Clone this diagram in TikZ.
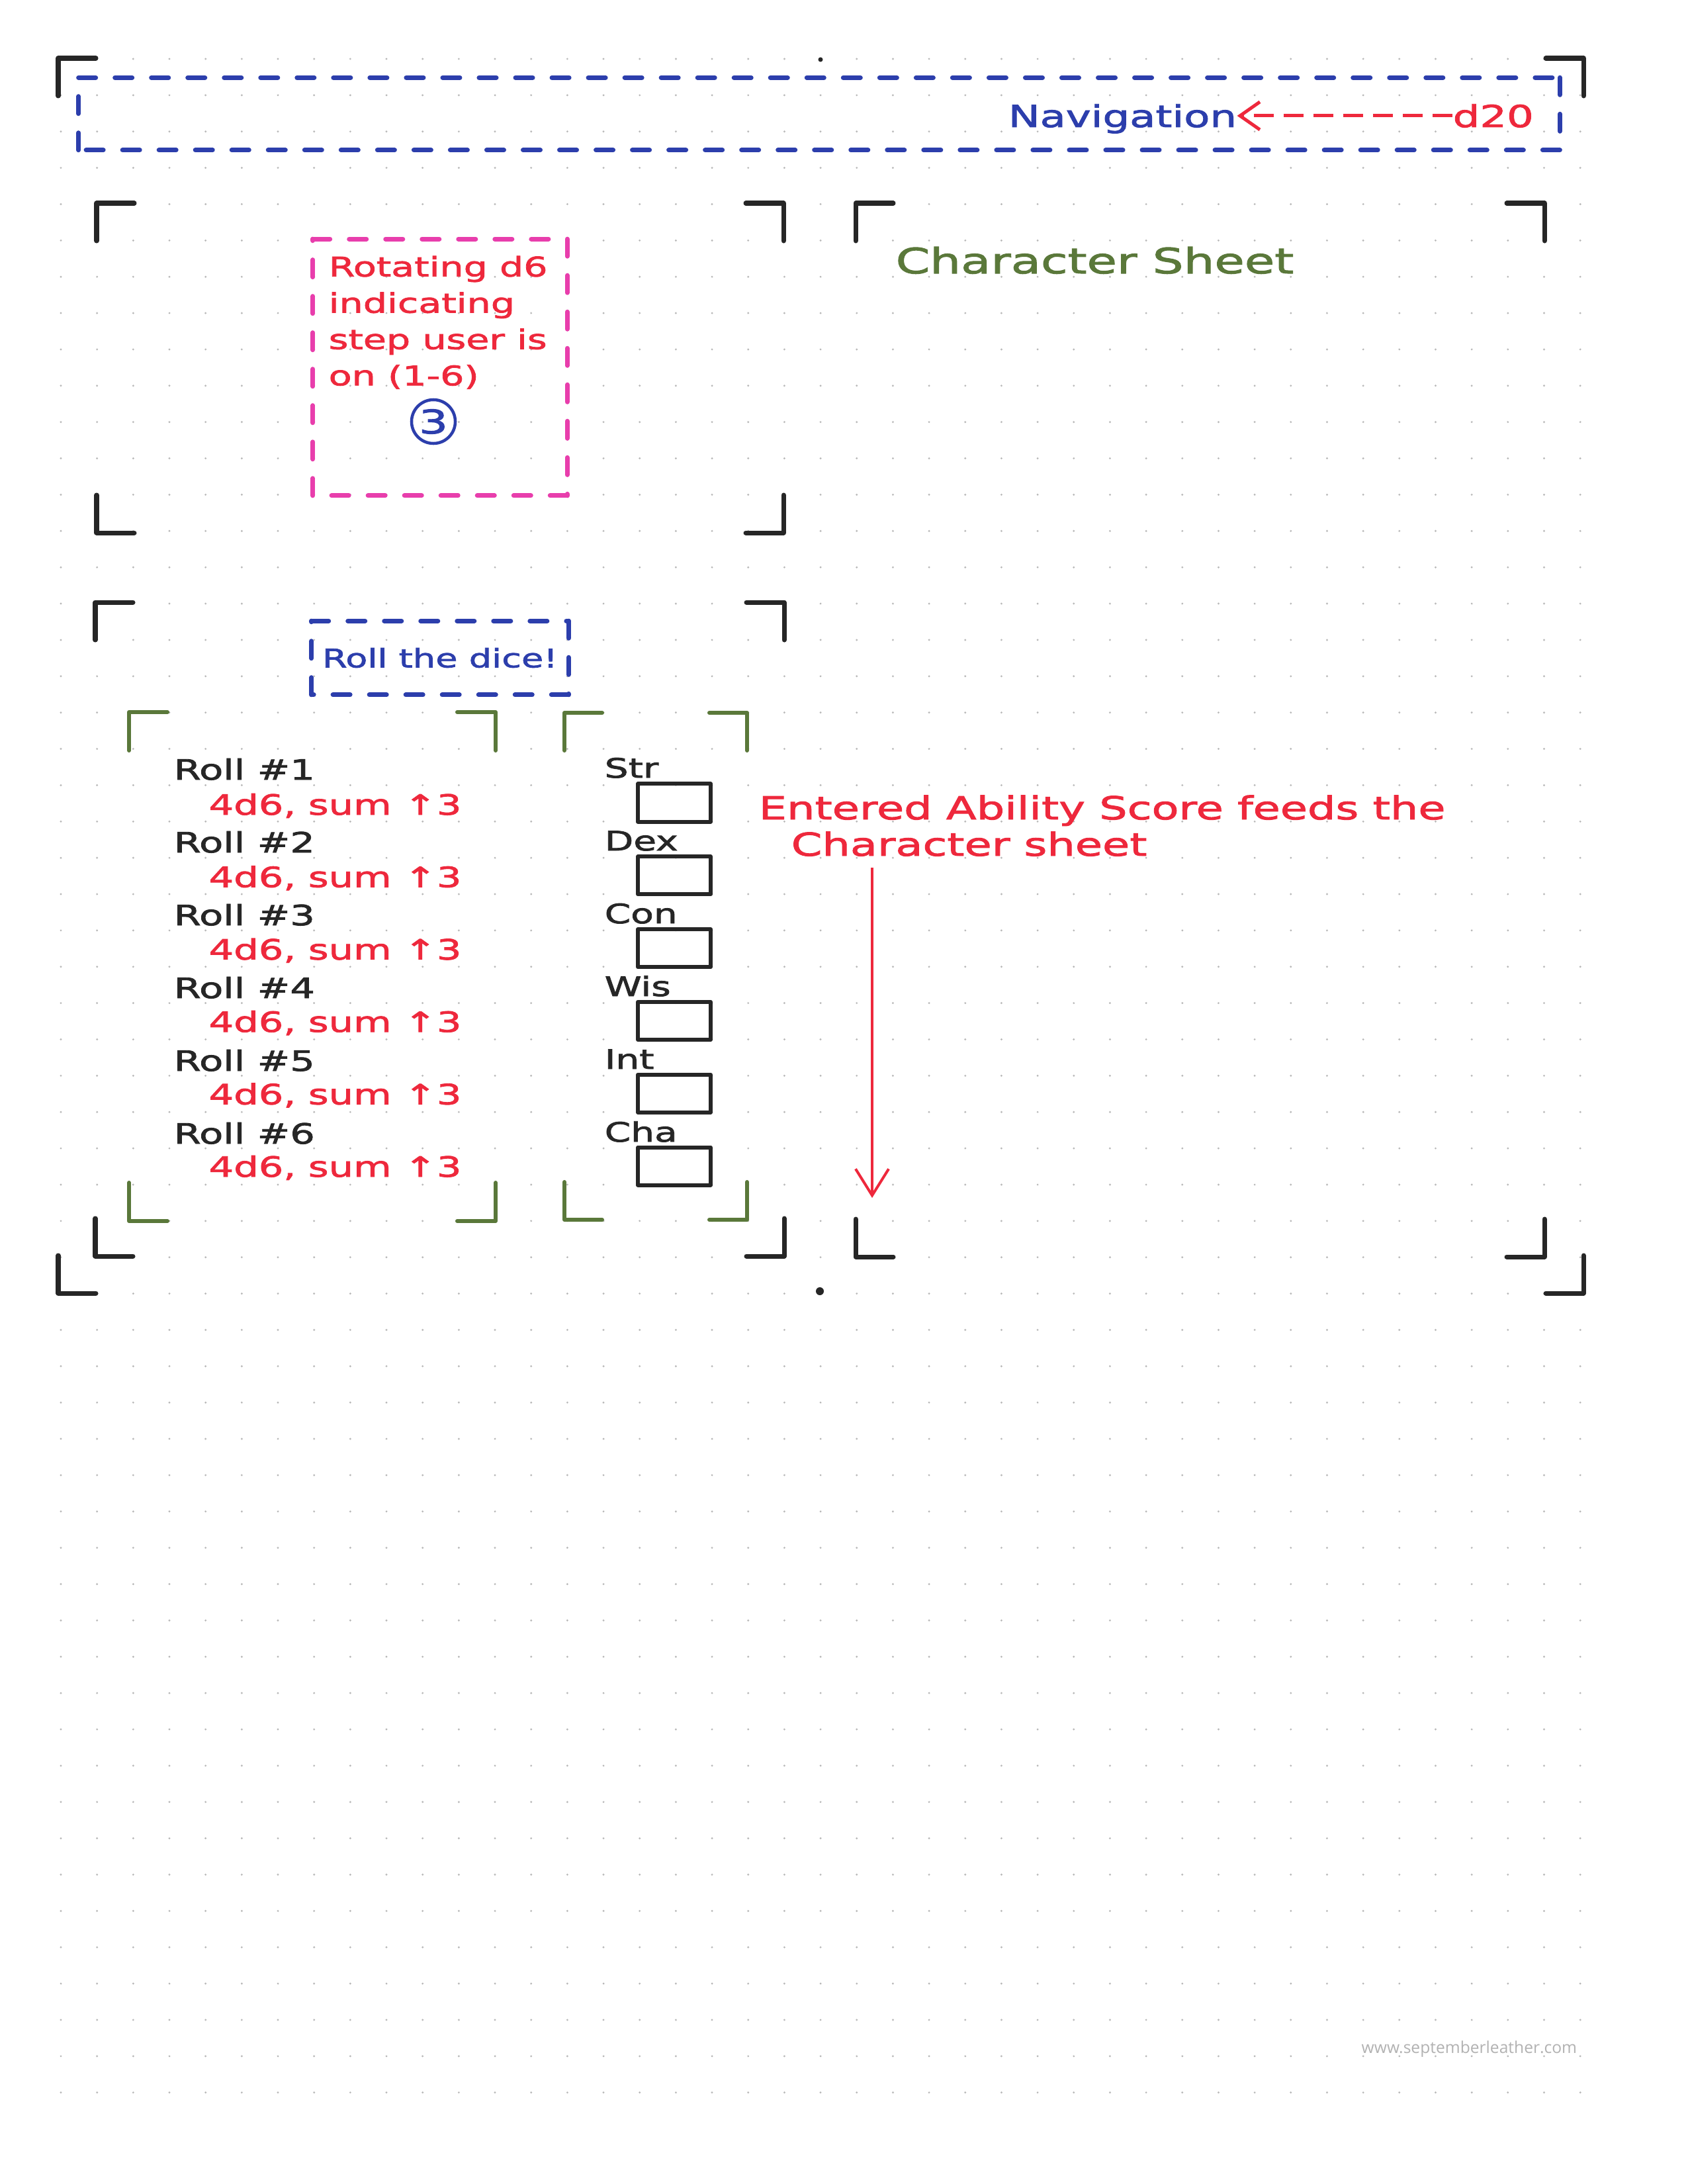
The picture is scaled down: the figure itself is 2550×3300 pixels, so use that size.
\documentclass[tikz,border=0pt]{standalone}
\usepackage{fontspec}
\usetikzlibrary{arrows.meta,positioning}
\newfontfamily\hand[FakeStretch=1.4,FakeBold=2]{DejaVu Sans}
\newfontfamily\webfont{Open Sans}
\definecolor{inkblack}{RGB}{38,38,38}
\definecolor{inkblue}{RGB}{44,62,172}
\definecolor{inkred}{RGB}{238,40,60}
\definecolor{inkpink}{RGB}{232,62,172}
\definecolor{inkgreen}{RGB}{90,120,58}
\definecolor{gridgray}{RGB}{185,185,185}
% corner marks of a panel: x1, y1, x2, y2, arm, style
\newcommand\panelcorners[6]{%
  \draw[#6] (#1+#5,#2) -- (#1,#2) -- (#1,#2+#5);
  \draw[#6] (#3-#5,#2) -- (#3,#2) -- (#3,#2+#5);
  \draw[#6] (#1,#4-#5) -- (#1,#4) -- (#1+#5,#4);
  \draw[#6] (#3,#4-#5) -- (#3,#4) -- (#3-#5,#4);
}
% dashed sides of a box node, each side starting at a corner
\newcommand\dashsides[2]{%
  \foreach \a/\b in {north west/north east,north east/south east,south east/south west,south west/north west}
    \draw[#2] (#1.\a) -- (#1.\b);
}
\begin{document}
\begin{tikzpicture}[x=0.01cm,y=-0.01cm,
    ink/.style={line width=0.07cm,line cap=round,line join=round},
    blackcorner/.style={ink,inkblack},
    greencorner/.style={ink,line width=0.06cm,inkgreen},
    dashside/.style={line width=0.07cm,line cap=round,dash pattern=on 0.26cm off 0.29cm},
    dashbox/.style={rectangle,inner sep=0pt},
    txt/.style={inner sep=0pt,anchor=base west},
    scorebox/.style={draw=inkblack,line width=0.06cm,line join=round,minimum width=1.1cm,minimum height=0.57cm,inner sep=0pt},
    navarrow/.style={inkred,line width=0.05cm,dash pattern=on 0.3cm off 0.15cm,-{Straight Barb[length=0.3cm,width=0.42cm]}},
    feedarrow/.style={inkred,line width=0.04cm,-{Straight Barb[length=0.4cm,width=0.5cm]}}]
    \fill[white] (0,0) rectangle (2550,3300);
    \useasboundingbox (0,0) rectangle (2550,3300);

    % dotted paper
    \foreach \i in {0,...,42}
      \foreach \j in {0,...,56}
        \fill[gridgray] (92+54.67*\i,89+54.87*\j) circle[radius=0.016cm];
    \fill[inkblack] (1240,90) circle[radius=0.035cm];
    \fill[inkblack] (1239,1951) circle[radius=0.06cm];

    % panels
    \panelcorners{88}{88}{2393}{1954}{57}{blackcorner}
    \panelcorners{146}{307}{1184}{805}{57}{blackcorner}
    \panelcorners{144}{910}{1185}{1898}{57}{blackcorner}
    \panelcorners{1293}{307}{2334}{1899}{57}{blackcorner}
    \panelcorners{195}{1076}{749}{1845}{58}{greencorner}
    \panelcorners{853}{1077}{1129}{1843}{57}{greencorner}

    % navigation bar
    \node[dashbox,minimum width=22.36cm,minimum height=1.08cm] (navbar) at (1238,172) {};
    \dashsides{navbar}{dashside,inkblue}
    \node[txt,font=\hand\fontsize{13}{16}\selectfont,text=inkblue] (nav) at (1523,192) {Navigation};
    \node[txt,font=\hand\fontsize{13}{16}\selectfont,text=inkred] (d20) at (2195,192) {d20};
    \draw[navarrow] (d20.west) -- (d20.west -| nav.east);

    \node[txt,font=\hand\fontsize{15}{18}\selectfont,text=inkgreen] (sheet) at (1353,413) {Character Sheet};

    % step indicator
    \node[dashbox,minimum width=3.83cm,minimum height=3.86cm] (stepbox) at (665,555) {};
    \dashsides{stepbox}{dashside,inkpink}
    \node[inner sep=0pt,anchor=north west,align=left,font=\hand\fontsize{11.6}{15.6}\selectfont,text=inkred] (steptext) at (496,386) {Rotating d6\\indicating\\step user is\\on (1-6)};
    \node[circle,draw=inkblue,line width=0.045cm,minimum size=0.66cm,inner sep=0pt,text=inkblue,font=\hand\fontsize{14}{16}\selectfont] (stepnum) at (655,637) {3};

    % rolls
    \node[dashbox,minimum width=3.87cm,minimum height=1.1cm,text=inkblue,font=\hand\fontsize{11}{14}\selectfont] (dice) at (665,994) {Roll the dice!};
    \dashsides{dice}{dashside,inkblue}
    \foreach \n in {1,...,6} {
      \node[txt,font=\hand\fontsize{12}{15}\selectfont,text=inkblack] (roll\n) at (262,1178+110*\n-110) {Roll \#\n};
      \node[txt,font=\hand\fontsize{12}{15}\selectfont,text=inkred] (rule\n) at (315,1231+109.4*\n-109.4) {4d6, sum ↑3};
    }

    % ability scores
    \foreach \ab [count=\n] in {Str,Dex,Con,Wis,Int,Cha} {
      \node[scorebox] (score\n) at (1019,1213+109.8*\n-109.8) {};
      \node[txt,font=\hand\fontsize{11.5}{14}\selectfont,text=inkblack] (ab\n) at (913,1175+110*\n-110) {\ab};
    }

    \node[txt,font=\hand\fontsize{13.6}{16}\selectfont,text=inkred] (feed1) at (1146,1238) {Entered Ability Score feeds the};
    \node[txt,font=\hand\fontsize{13.6}{16}\selectfont,text=inkred] (feed2) at (1195,1293) {Character sheet};
    \coordinate (sheetin) at (1318,1810);
    \draw[feedarrow] ([yshift=-0.17cm]feed2.south -| sheetin) -- (sheetin);

    \node[txt,font=\webfont\fontsize{7}{8}\selectfont,text=gray!60] (web) at (2057,3102) {www.septemberleather.com};
\end{tikzpicture}
\end{document}
